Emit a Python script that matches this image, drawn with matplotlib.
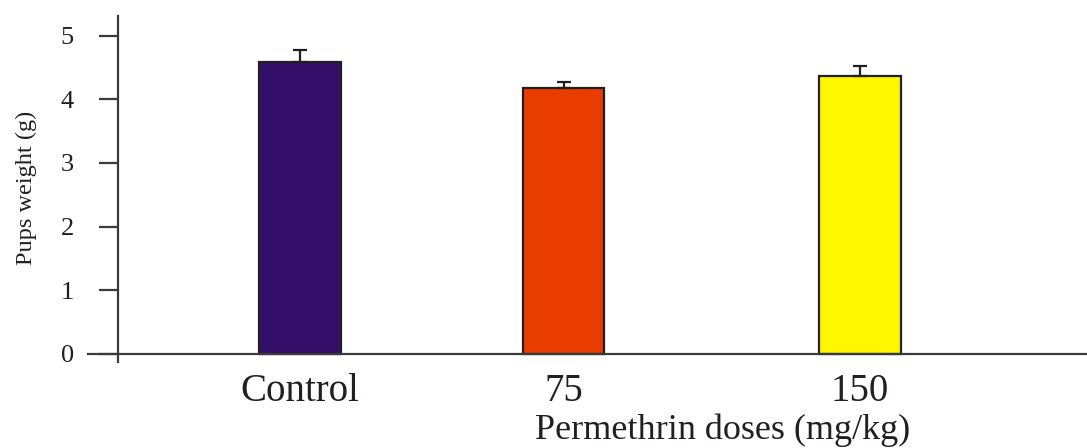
import numpy as np
import matplotlib.pyplot as plt

plt.rcParams['font.family'] = ['Liberation Serif', 'DejaVu Serif']

# data
categories = ['Control', '75', '150']
means = [4.59, 4.18, 4.37]
errs = [0.19, 0.10, 0.16]
colors = ['#35106b', '#e93d00', '#fff700']

# layout (bar centres are not evenly spaced in the original)
xpos = [0, 1, 2.125]
W, H = 1087, 448
edge = '#231f20'

fig = plt.figure(figsize=(W / 100, H / 100), dpi=100)
ax = fig.add_axes([88 / W, (H - 362) / H, 1 - 88 / W, (362 - 16) / H])

ax.bar(xpos, means, width=0.31, color=colors, edgecolor=edge, linewidth=1.6, zorder=2)
ax.errorbar(xpos, means, yerr=[[0, 0, 0], errs], fmt='none', ecolor=edge,
            elinewidth=1.6, capsize=5, capthick=1.6, zorder=3)

ax.set_xlim(-0.805, 2.987)
ax.set_ylim(-0.13, 5.31)

for s in ['top', 'right']:
    ax.spines[s].set_visible(False)
ax.spines['left'].set_position(('data', -0.69))
ax.spines['bottom'].set_position(('data', 0))
for s in ['left', 'bottom']:
    ax.spines[s].set_color('#3a3a3a')
    ax.spines[s].set_linewidth(1.6)

ax.set_yticks(range(6))
ax.tick_params(axis='y', length=14, width=1.6, color='#3a3a3a', pad=18,
               labelsize=19, labelcolor='#231f20')
ax.set_xticks(xpos)
ax.set_xticklabels(categories)
ax.tick_params(axis='x', length=0, pad=14, labelsize=28, labelcolor='#231f20')

ax.set_ylabel('Pups weight (g)', fontsize=17.5, color='#231f20')
ax.yaxis.set_label_coords((37 - 88) / (W - 88), (362 - 188) / 346)
ax.set_xlabel('Permethrin doses (mg/kg)', fontsize=26, color='#231f20')
ax.xaxis.set_label_coords((723 - 88) / (W - 88), (362 - 430) / 346)
ax.xaxis.label.set_va('center')

fig.savefig('out.png', dpi=100)
